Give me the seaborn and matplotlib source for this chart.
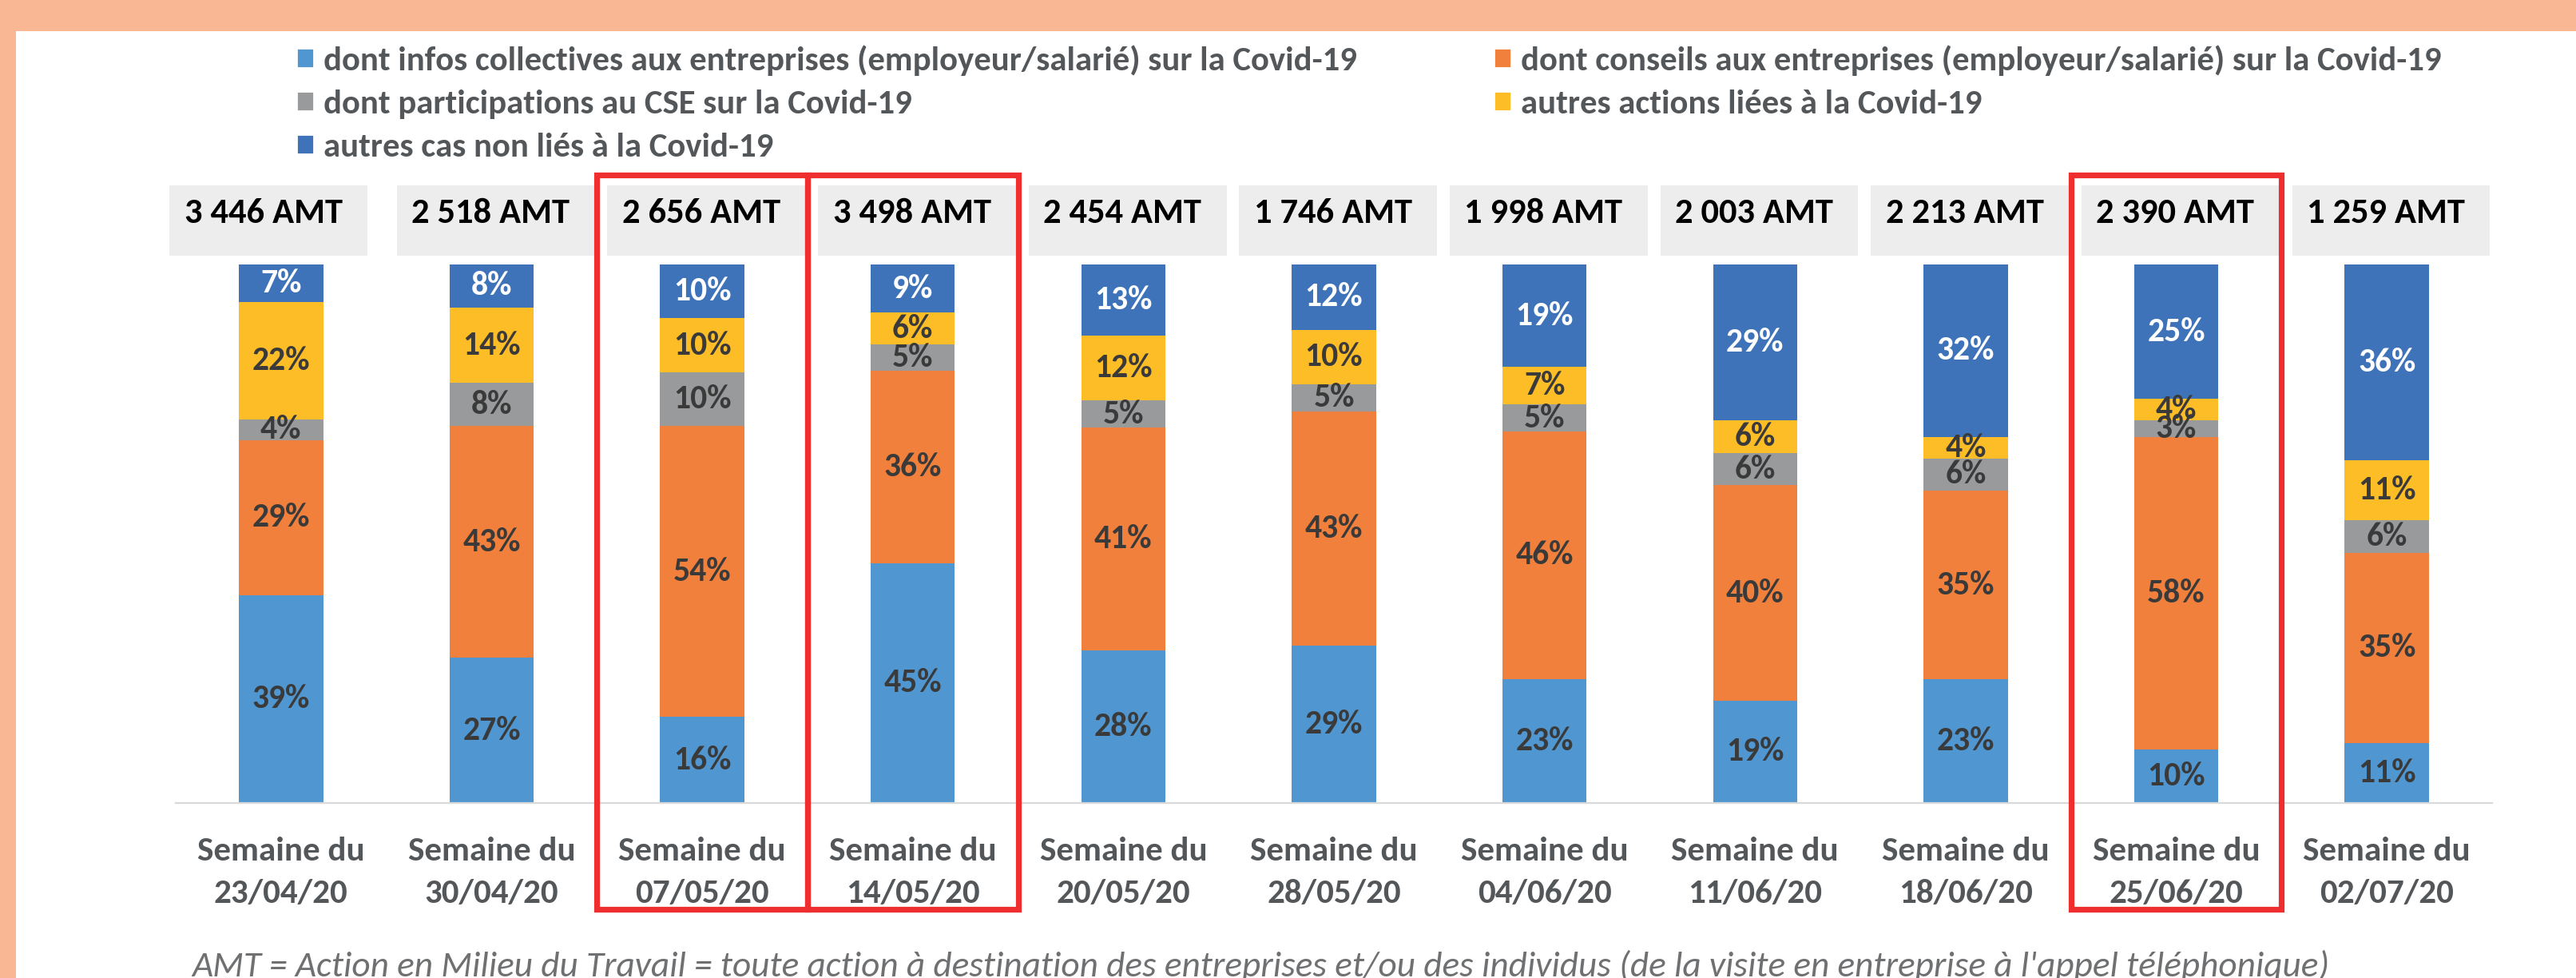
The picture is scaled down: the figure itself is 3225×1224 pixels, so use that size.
import matplotlib
matplotlib.use('Agg')
import matplotlib.pyplot as plt
from matplotlib.patches import Rectangle, Patch
import seaborn as sns
import pandas as pd
import numpy as np

# Data (share of AMT per week, in %)
weeks = ['23/04/20', '30/04/20', '07/05/20', '14/05/20', '20/05/20', '28/05/20',
         '04/06/20', '11/06/20', '18/06/20', '25/06/20', '02/07/20']
total_amt = ['3 446', '2 518', '2 656', '3 498', '2 454', '1 746',
             '1 998', '2 003', '2 213', '2 390', '1 259']
infos_collectives = [39, 27, 16, 45, 28, 29, 23, 19, 23, 10, 11]
conseils = [29, 43, 54, 36, 41, 43, 46, 40, 35, 58, 35]
participations_cse = [4, 8, 10, 5, 5, 5, 5, 6, 6, 3, 6]
autres_actions = [22, 14, 10, 6, 12, 10, 7, 6, 4, 4, 11]
autres_cas = [7, 8, 10, 9, 13, 12, 19, 29, 32, 25, 36]
highlighted = ['07/05/20', '14/05/20', '25/06/20']

series_names = [
    'dont infos collectives aux entreprises (employeur/salarié) sur la Covid-19',
    'dont conseils aux entreprises (employeur/salarié) sur la Covid-19',
    'dont participations au CSE sur la Covid-19',
    'autres actions liées à la Covid-19',
    'autres cas non liés à la Covid-19',
]
series_colors = ['#5097d2', '#f0803c', '#989a9b', '#fcbd27', '#3e73ba']
label_colors = ['#3a3a3a', '#3a3a3a', '#3a3a3a', '#3a3a3a', 'white']

df = pd.DataFrame({
    'semaine': ['Semaine du\n' + w for w in weeks],
    's0': infos_collectives,
    's1': conseils,
    's2': participations_cse,
    's3': autres_actions,
    's4': autres_cas,
})
cols = ['s0', 's1', 's2', 's3', 's4']
# 100% stacked: rescale each week so the bar reaches 100
norm = df[cols].div(df[cols].sum(axis=1), axis=0) * 100
cum = norm.cumsum(axis=1)

sns.set_style('white')
plt.rcParams['font.family'] = ['Carlito', 'Liberation Sans Narrow', 'DejaVu Sans']

W, H, DPI = 3225, 1224, 200
fig = plt.figure(figsize=(W / DPI, H / DPI), dpi=DPI)
ax = fig.add_axes([220 / W, 1 - 1005 / H, 2900 / W, 674 / H])

order = list(df['semaine'])
# draw cumulative totals from the top down so each layer hides the next
for k in range(4, -1, -1):
    plot_df = pd.DataFrame({'semaine': df['semaine'], 'val': cum[cols[k]]})
    sns.barplot(data=plot_df, x='semaine', y='val', order=order, color=series_colors[k],
                saturation=1, width=0.4, linewidth=0, errorbar=None, ax=ax)

# percentage labels inside each segment
for i in range(len(weeks)):
    bottom = 0
    for k, c in enumerate(cols):
        h = norm.loc[i, c]
        ax.text(i, bottom + h / 2, f"{df.loc[i, c]}%", ha='center', va='center',
                fontsize=15, fontweight='bold', color=label_colors[k], zorder=5)
        bottom += h

# AMT totals in grey boxes above the bars
for i, t in enumerate(total_amt):
    x0 = i - 0.53 if i == 0 else i - 0.45
    ax.add_patch(Rectangle((x0, 101.6), 0.94, 13.1, facecolor='#ededed',
                           edgecolor='none', clip_on=False, zorder=2))
    ax.text(x0 + 0.07, 109.5, f"{t} AMT", ha='left', va='center', fontsize=16,
            fontweight='bold', color='black', clip_on=False, zorder=3)

# red frames around highlighted weeks
for w in highlighted:
    i = weeks.index(w)
    ax.add_patch(Rectangle((i - 0.5, -19.7), 1, 136.3, fill=False, edgecolor='#ee2e2f',
                           linewidth=2.6, clip_on=False, zorder=6))

ax.set_xlim(-0.5, len(weeks) - 0.5)
ax.set_ylim(0, 100)
ax.set_yticks([])
ax.set_xlabel('')
ax.set_ylabel('')
ax.set_xticks(range(len(weeks)))
ax.set_xticklabels(order, fontsize=15.5, fontweight='bold', color='#54575a', linespacing=1.55)
ax.set_xticks(np.arange(-0.5, len(weeks), 1), minor=True)
ax.tick_params(axis='x', which='major', length=0, pad=15)
ax.tick_params(axis='x', which='minor', length=5.4, width=0.8, color='#d9d9d9', direction='out')
for s in ['left', 'right', 'top']:
    ax.spines[s].set_visible(False)
ax.spines['bottom'].set_color('#d9d9d9')
ax.spines['bottom'].set_linewidth(0.8)

# legend, two columns like the original
handles = [Patch(facecolor=series_colors[k], label=series_names[k]) for k in [0, 2, 4, 1, 3]]
fig.legend(handles=handles, ncol=2, loc='upper left', bbox_to_anchor=(371 / W, 1 - 56 / H),
           frameon=False, borderpad=0, borderaxespad=0, handlelength=0.52, handleheight=0.5,
           handletextpad=0.28, labelspacing=0.40, columnspacing=4.0,
           prop={'weight': 'bold', 'size': 15.4}, labelcolor='#54575a')

# footnote, partially cut by the bottom edge like the source
fig.text(1578 / W, 2 / H, "AMT = Action en Milieu du Travail = toute action à destination des entreprises "
         "et/ou des individus (de la visite en entreprise à l'appel téléphonique)",
         ha='center', va='baseline', fontsize=16.3, style='italic', color='#6f7072')

# peach frame on top and left
fig.patches.append(Rectangle((0, 1 - 39 / H), 1, 39 / H, transform=fig.transFigure,
                             facecolor='#f9b794', edgecolor='none', zorder=0))
fig.patches.append(Rectangle((0, 0), 20 / W, 1, transform=fig.transFigure,
                             facecolor='#f9b794', edgecolor='none', zorder=0))

fig.savefig('out.png', dpi=DPI, facecolor='white')
